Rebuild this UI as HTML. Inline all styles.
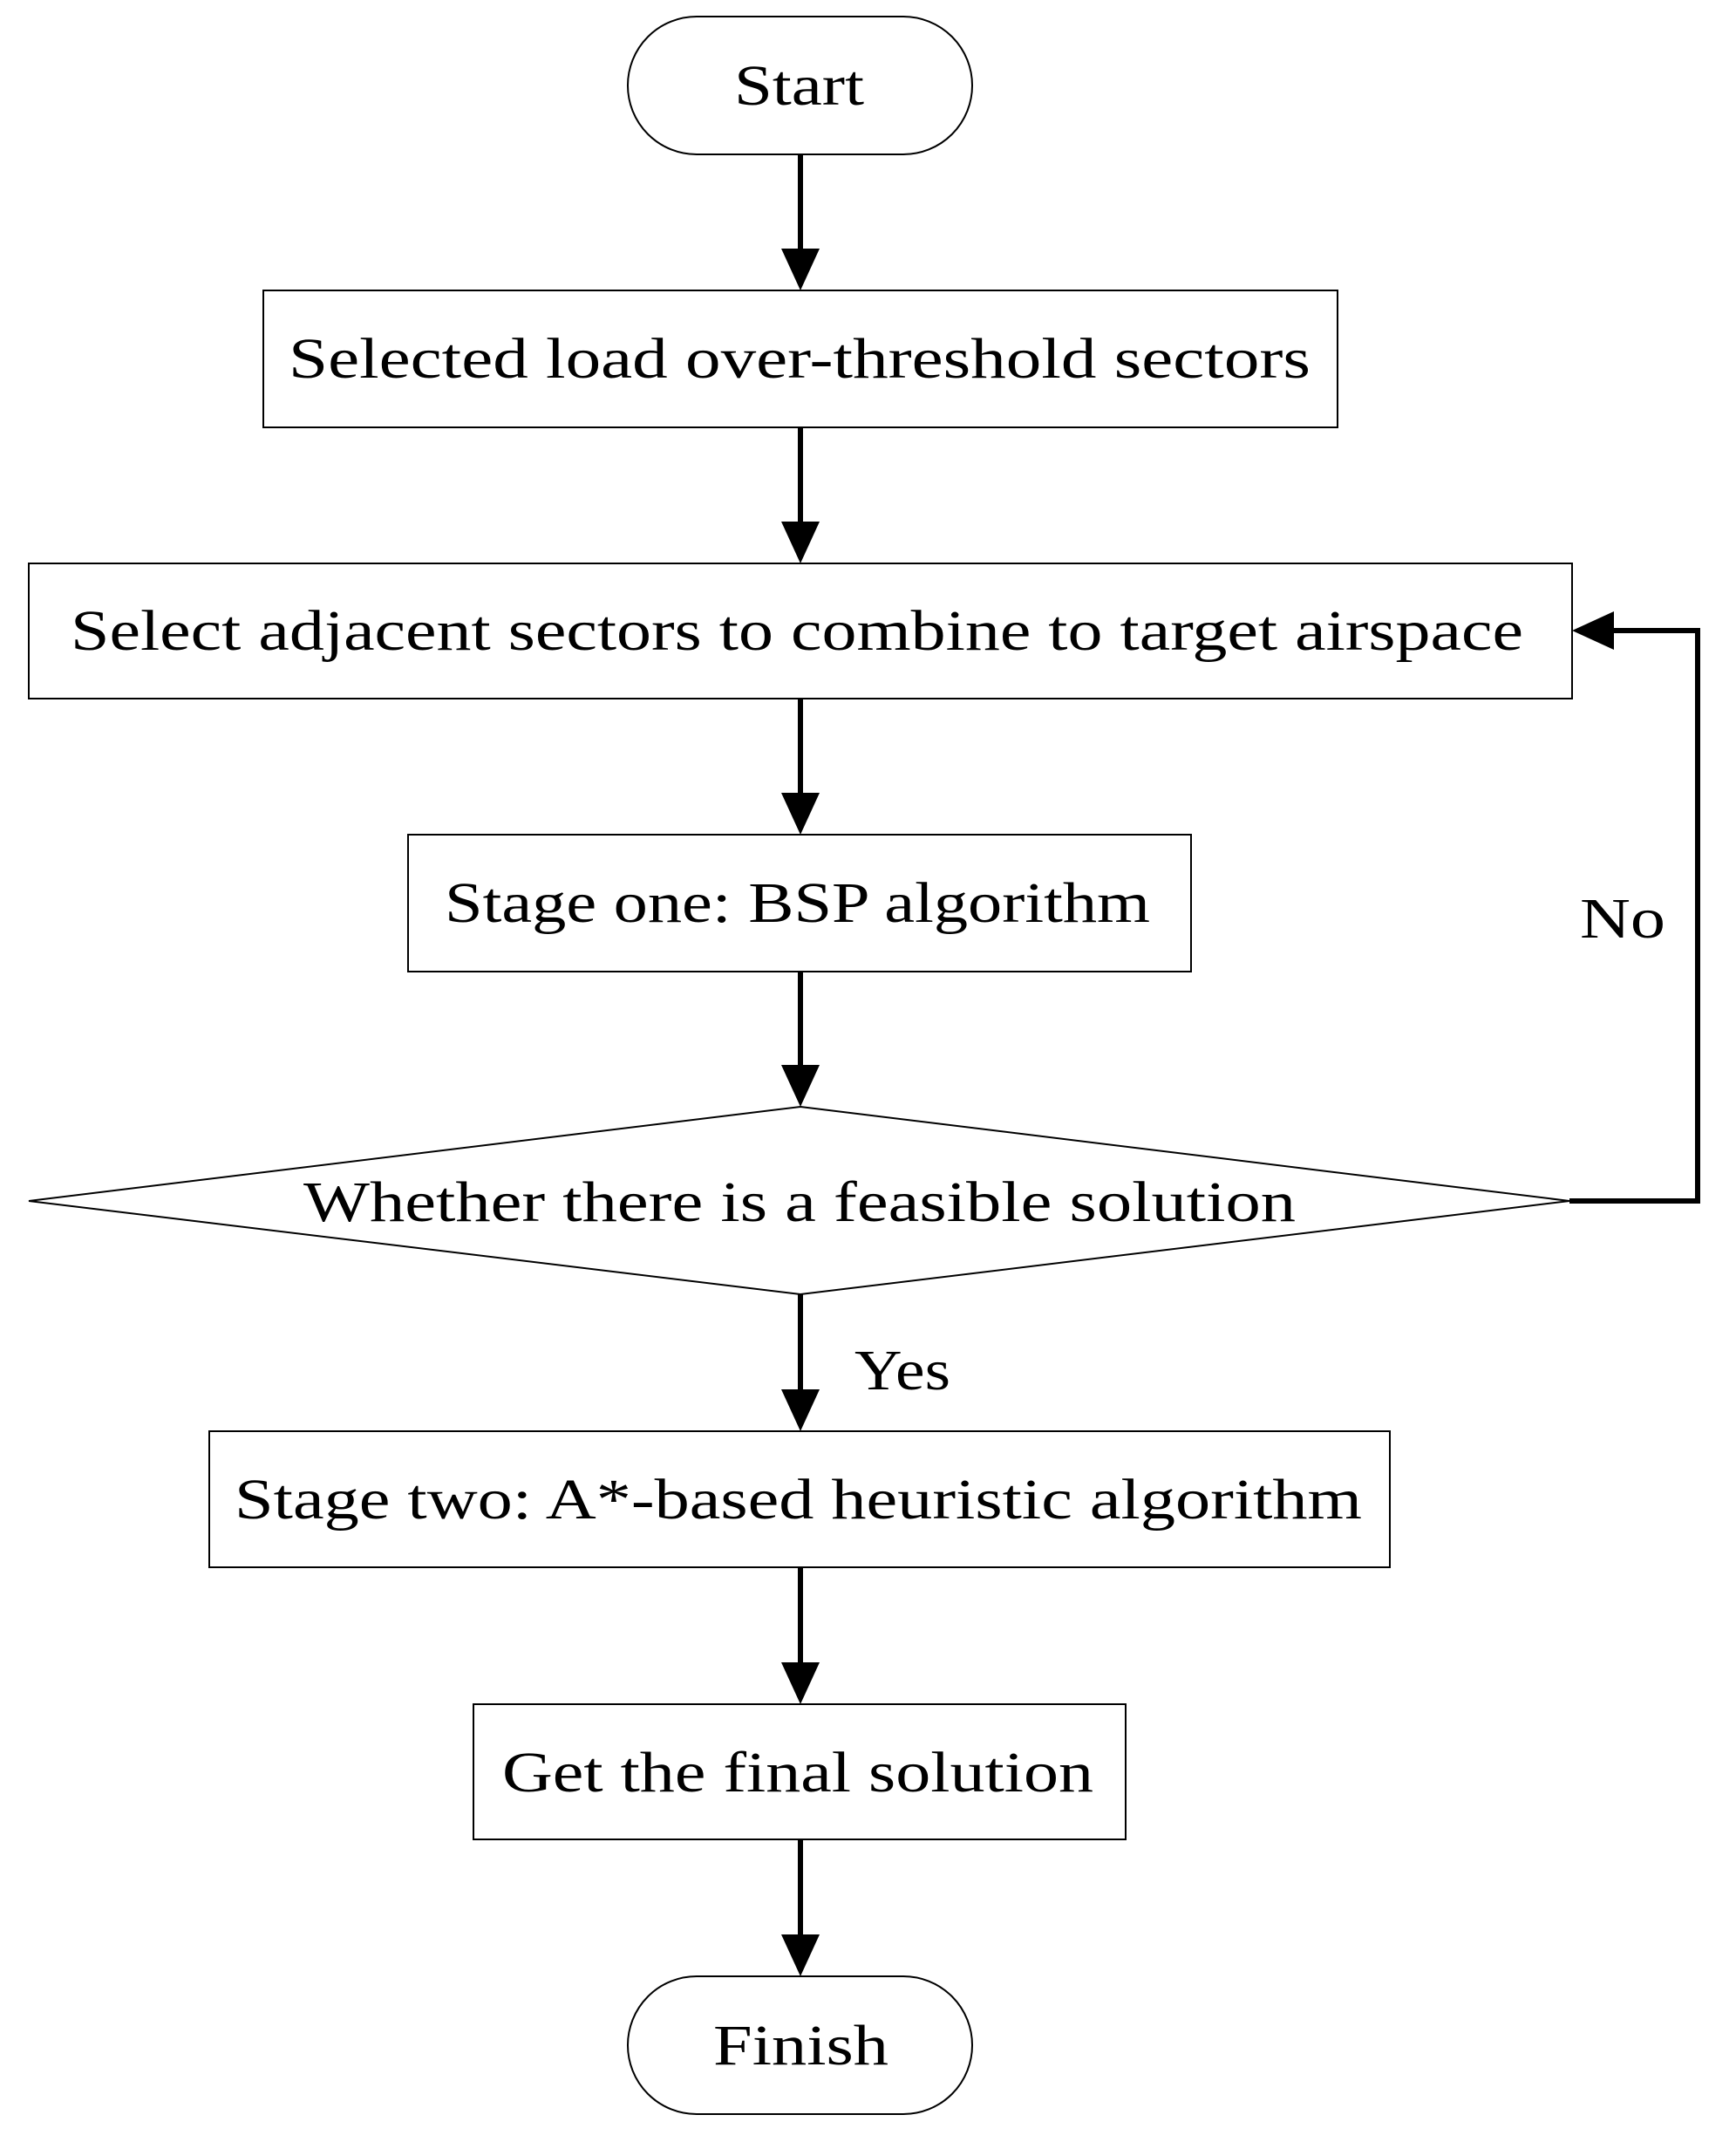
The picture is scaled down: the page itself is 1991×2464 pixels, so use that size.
<!DOCTYPE html>
<html><head><meta charset="utf-8"><style>
html,body{margin:0;padding:0;background:#fff}
svg{display:block}
text{font-family:"Liberation Serif",serif;font-size:66px;fill:#000}
</style></head><body>
<svg width="1991" height="2464" viewBox="0 0 1991 2464" xmlns="http://www.w3.org/2000/svg">
<defs><marker id="a" markerWidth="8" markerHeight="8" refX="7.5" refY="4" orient="auto" markerUnits="userSpaceOnUse" viewBox="0 0 8 8"><path d="M0,0 L8,4 L0,8 z" fill="#000"/></marker></defs>
<g fill="none" stroke="#000" stroke-width="2">
<rect x="720" y="19" width="395" height="158" rx="79"/>
<rect x="302" y="333" width="1232" height="157"/>
<rect x="33" y="646" width="1770" height="155"/>
<rect x="468" y="957" width="898" height="157"/>
<polygon points="33,1377 918,1269 1800,1377 918,1484"/>
<rect x="240" y="1641" width="1354" height="156"/>
<rect x="543" y="1954" width="748" height="155"/>
<rect x="720" y="2266" width="395" height="158" rx="79"/>
</g>
<g stroke="#000" stroke-width="6" fill="none">
<line x1="918" y1="177" x2="918" y2="295"/>
<line x1="918" y1="490" x2="918" y2="608"/>
<line x1="918" y1="801" x2="918" y2="919"/>
<line x1="918" y1="1114" x2="918" y2="1231"/>
<line x1="918" y1="1484" x2="918" y2="1603"/>
<line x1="918" y1="1797" x2="918" y2="1916"/>
<line x1="918" y1="2109" x2="918" y2="2228"/>
<polyline points="1800,1377 1947,1377 1947,723 1841,723"/>
</g>
<g fill="#000">
<polygon points="896,285 940,285 918,333"/>
<polygon points="896,598 940,598 918,646"/>
<polygon points="896,909 940,909 918,957"/>
<polygon points="896,1221 940,1221 918,1269"/>
<polygon points="896,1593 940,1593 918,1641"/>
<polygon points="896,1906 940,1906 918,1954"/>
<polygon points="896,2218 940,2218 918,2266"/>
<polygon points="1851,701 1851,745 1803,723"/>
</g>
<text x="842" y="120" textLength="149" lengthAdjust="spacingAndGlyphs">Start</text>
<text x="331" y="433" textLength="1172" lengthAdjust="spacingAndGlyphs">Selected load over-threshold sectors</text>
<text x="81" y="745" textLength="1666" lengthAdjust="spacingAndGlyphs">Select adjacent sectors to combine to target airspace</text>
<text x="510" y="1057" textLength="809" lengthAdjust="spacingAndGlyphs">Stage one: BSP algorithm</text>
<text x="348" y="1400" textLength="1138" lengthAdjust="spacingAndGlyphs">Whether there is a feasible solution</text>
<text x="269" y="1741" textLength="1293" lengthAdjust="spacingAndGlyphs">Stage two: A*-based heuristic algorithm</text>
<text x="576" y="2054" textLength="678" lengthAdjust="spacingAndGlyphs">Get the final solution</text>
<text x="818" y="2367" textLength="201" lengthAdjust="spacingAndGlyphs">Finish</text>
<text x="1812" y="1075" textLength="98" lengthAdjust="spacingAndGlyphs">No</text>
<text x="980" y="1593" textLength="110" lengthAdjust="spacingAndGlyphs">Yes</text>
</svg>
</body></html>
